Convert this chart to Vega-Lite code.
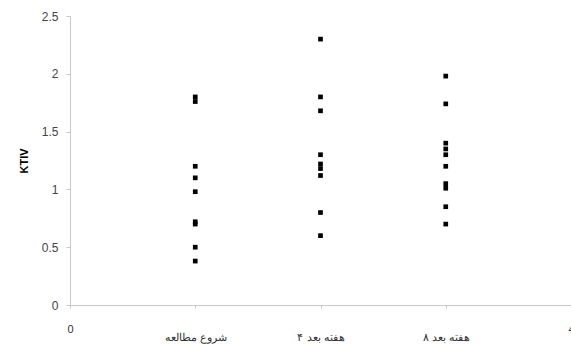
{
  "$schema": "https://vega.github.io/schema/vega-lite/v6.json",
  "width": 501,
  "height": 289,
  "autosize": {"type": "none"},
  "padding": {"left": 70, "top": 16, "right": 0, "bottom": 39},
  "config": {"view": {"stroke": null}, "font": "Liberation Sans"},
  "data": {
    "values": [
      {"t": 1, "KTIV": 1.8}, {"t": 1, "KTIV": 1.76}, {"t": 1, "KTIV": 1.2}, {"t": 1, "KTIV": 1.1},
      {"t": 1, "KTIV": 0.98}, {"t": 1, "KTIV": 0.72}, {"t": 1, "KTIV": 0.7}, {"t": 1, "KTIV": 0.5}, {"t": 1, "KTIV": 0.38},
      {"t": 2, "KTIV": 2.3}, {"t": 2, "KTIV": 1.8}, {"t": 2, "KTIV": 1.68}, {"t": 2, "KTIV": 1.3},
      {"t": 2, "KTIV": 1.22}, {"t": 2, "KTIV": 1.18}, {"t": 2, "KTIV": 1.12}, {"t": 2, "KTIV": 0.8}, {"t": 2, "KTIV": 0.6},
      {"t": 3, "KTIV": 1.98}, {"t": 3, "KTIV": 1.74}, {"t": 3, "KTIV": 1.4}, {"t": 3, "KTIV": 1.35}, {"t": 3, "KTIV": 1.3},
      {"t": 3, "KTIV": 1.2}, {"t": 3, "KTIV": 1.05}, {"t": 3, "KTIV": 1.01}, {"t": 3, "KTIV": 0.85}, {"t": 3, "KTIV": 0.7}
    ]
  },
  "mark": {"type": "square", "size": 22, "color": "#000", "opacity": 1, "filled": true},
  "encoding": {
    "x": {
      "field": "t", "type": "quantitative",
      "scale": {"domain": [0, 4], "nice": false, "zero": true},
      "axis": {
        "title": null, "grid": false, "values": [0, 1, 2, 3, 4],
        "labelExpr": "datum.value == 1 ? 'شروع مطالعه' : datum.value == 2 ? '۴ هفته بعد' : datum.value == 3 ? '۸ هفته بعد' : datum.label",
        "domainColor": "#c8c8c8", "tickColor": "#c8c8c8", "tickSize": 3,
        "labelPadding": {"condition": {"test": "datum.value >= 1 && datum.value <= 3", "value": 23}, "value": 15},
        "labelFontSize": 11, "labelColor": "#333",
        "labelFlush": false, "labelOverlap": false
      }
    },
    "y": {
      "field": "KTIV", "type": "quantitative",
      "scale": {"domain": [0, 2.5], "nice": false},
      "axis": {
        "title": "KTIV", "titleFontSize": 11, "titleFontWeight": "bold", "titleColor": "#000", "titlePadding": 12,
        "grid": false, "values": [0, 0.5, 1, 1.5, 2, 2.5], "format": ".1~f",
        "domainColor": "#c8c8c8", "tickColor": "#c8c8c8", "tickSize": 4,
        "labelPadding": 8, "labelFontSize": 12, "labelColor": "#444"
      }
    }
  }
}
